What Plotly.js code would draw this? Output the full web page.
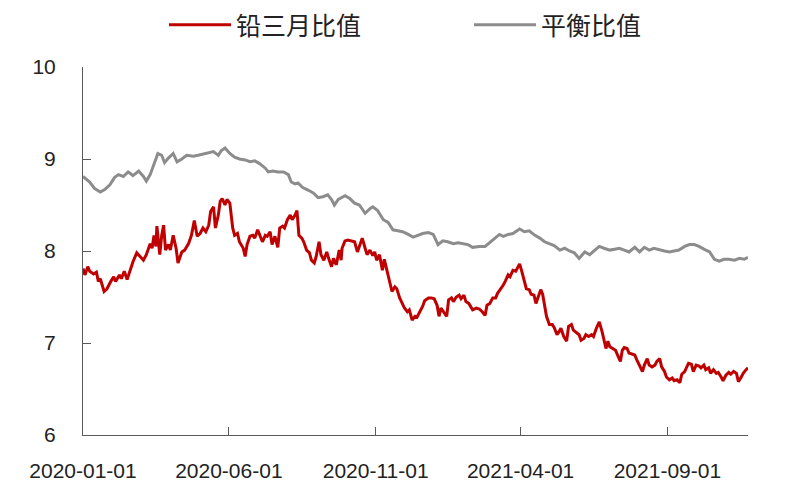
<!DOCTYPE html>
<html>
<head>
<meta charset="utf-8">
<script src="https://cdn.plot.ly/plotly-3.0.1.min.js"></script>
<style>
  html, body { margin: 0; padding: 0; background: #ffffff; }
  #chart { width: 800px; height: 500px; }
</style>
</head>
<body>
<div id="chart"></div>
<script>
// ---- Series names ----
const seriesRedName = "铅三月比值";
const seriesGrayName = "平衡比值";

// ---- 铅三月比值 (red) ----
const redDates = [
  "2020-01-01","2020-01-03","2020-01-06","2020-01-08","2020-01-12","2020-01-15","2020-01-17","2020-01-19","2020-01-23","2020-01-26",
  "2020-01-30","2020-02-02","2020-02-04","2020-02-08","2020-02-10","2020-02-13","2020-02-16","2020-02-19","2020-02-22","2020-02-26",
  "2020-02-29","2020-03-04","2020-03-07","2020-03-11","2020-03-13","2020-03-15","2020-03-17","2020-03-18","2020-03-21","2020-03-23",
  "2020-03-25","2020-03-27","2020-03-30","2020-04-01","2020-04-04","2020-04-07","2020-04-09","2020-04-13","2020-04-16","2020-04-20",
  "2020-04-23","2020-04-26","2020-04-29","2020-05-02","2020-05-05","2020-05-08","2020-05-11","2020-05-13","2020-05-16","2020-05-18",
  "2020-05-21","2020-05-23","2020-05-25","2020-05-28","2020-05-30","2020-06-02","2020-06-05","2020-06-07","2020-06-10","2020-06-12",
  "2020-06-16","2020-06-18","2020-06-20","2020-06-23","2020-06-26","2020-06-28","2020-07-01","2020-07-03","2020-07-06","2020-07-09",
  "2020-07-11","2020-07-14","2020-07-16","2020-07-19","2020-07-22","2020-07-24","2020-07-27","2020-07-29","2020-08-01","2020-08-04",
  "2020-08-06","2020-08-09","2020-08-11","2020-08-13","2020-08-16","2020-08-18","2020-08-21","2020-08-24","2020-08-26","2020-08-29",
  "2020-08-31","2020-09-03","2020-09-05","2020-09-08","2020-09-11","2020-09-13","2020-09-16","2020-09-18","2020-09-21","2020-09-24",
  "2020-09-26","2020-09-27","2020-09-30","2020-10-03","2020-10-07","2020-10-10","2020-10-13","2020-10-15","2020-10-18","2020-10-21",
  "2020-10-23","2020-10-26","2020-10-29","2020-10-31","2020-11-02","2020-11-05","2020-11-08","2020-11-10","2020-11-13","2020-11-16",
  "2020-11-18","2020-11-21","2020-11-23","2020-11-26","2020-11-29","2020-12-01","2020-12-04","2020-12-06","2020-12-09","2020-12-12",
  "2020-12-14","2020-12-17","2020-12-20","2020-12-22","2020-12-26","2020-12-29","2021-01-01","2021-01-04","2021-01-06","2021-01-08",
  "2021-01-11","2021-01-14","2021-01-16","2021-01-19","2021-01-21","2021-01-24","2021-01-27","2021-01-29","2021-02-01","2021-02-03",
  "2021-02-06","2021-02-09","2021-02-10","2021-02-14","2021-02-17","2021-02-20","2021-02-23","2021-02-25","2021-02-28","2021-03-03",
  "2021-03-06","2021-03-08","2021-03-11","2021-03-14","2021-03-16","2021-03-19","2021-03-21","2021-03-24","2021-03-27","2021-03-29",
  "2021-03-31","2021-04-02","2021-04-04","2021-04-07","2021-04-10","2021-04-12","2021-04-15","2021-04-17","2021-04-19","2021-04-22",
  "2021-04-24","2021-04-26","2021-04-28","2021-05-01","2021-05-04","2021-05-06","2021-05-09","2021-05-11","2021-05-13","2021-05-16",
  "2021-05-19","2021-05-21","2021-05-24","2021-05-26","2021-05-29","2021-06-01","2021-06-03","2021-06-06","2021-06-08","2021-06-11",
  "2021-06-14","2021-06-16","2021-06-19","2021-06-22","2021-06-25","2021-06-27","2021-06-29","2021-07-01","2021-07-03","2021-07-06",
  "2021-07-09","2021-07-11","2021-07-14","2021-07-16","2021-07-18","2021-07-21","2021-07-23","2021-07-26","2021-07-29","2021-07-31",
  "2021-08-03","2021-08-06","2021-08-08","2021-08-11","2021-08-13","2021-08-16","2021-08-19","2021-08-21","2021-08-24","2021-08-26",
  "2021-08-29","2021-08-31","2021-09-03","2021-09-06","2021-09-08","2021-09-11","2021-09-14","2021-09-16","2021-09-19","2021-09-21",
  "2021-09-23","2021-09-26","2021-09-28","2021-10-01","2021-10-04","2021-10-06","2021-10-09","2021-10-11","2021-10-14","2021-10-16",
  "2021-10-19","2021-10-22","2021-10-24","2021-10-27","2021-10-29","2021-11-01","2021-11-04","2021-11-06","2021-11-09","2021-11-12",
  "2021-11-14","2021-11-17","2021-11-19","2021-11-22","2021-11-24"
];
const redValues = [
  7.81,7.74,7.83,7.78,7.75,7.77,7.67,7.70,7.56,7.59,
  7.67,7.72,7.67,7.74,7.70,7.78,7.69,7.79,7.88,7.98,
  7.94,7.90,7.96,8.08,8.03,8.17,8.05,8.27,7.96,8.17,
  8.28,8.01,8.07,8.01,8.17,8.03,7.87,7.99,8.01,8.08,
  8.17,8.33,8.16,8.19,8.25,8.21,8.28,8.43,8.48,8.25,
  8.39,8.54,8.57,8.50,8.56,8.52,8.25,8.17,8.19,8.10,
  8.03,7.94,8.07,8.16,8.17,8.14,8.23,8.17,8.10,8.17,
  8.16,8.21,8.07,8.16,8.04,8.25,8.27,8.25,8.34,8.39,
  8.34,8.39,8.44,8.17,8.14,8.10,8.01,7.98,7.90,7.87,
  7.94,8.10,7.96,7.90,7.99,7.92,7.83,7.92,7.85,8.01,
  7.90,8.03,8.11,8.12,8.11,8.10,7.99,8.05,8.14,8.03,
  7.96,8.01,7.95,7.99,7.90,7.96,7.79,7.91,7.78,7.67,
  7.56,7.61,7.59,7.49,7.43,7.38,7.34,7.36,7.25,7.29,
  7.28,7.34,7.40,7.46,7.49,7.49,7.48,7.41,7.29,7.38,
  7.34,7.29,7.47,7.49,7.45,7.50,7.52,7.48,7.52,7.45,
  7.43,7.38,7.36,7.38,7.37,7.34,7.30,7.41,7.43,7.49,
  7.49,7.54,7.58,7.63,7.67,7.74,7.72,7.79,7.78,7.83,
  7.86,7.79,7.70,7.59,7.58,7.53,7.52,7.43,7.49,7.58,
  7.53,7.41,7.29,7.20,7.20,7.17,7.09,7.12,7.16,7.07,
  7.02,7.18,7.20,7.14,7.11,7.09,7.03,7.05,7.09,7.07,
  7.09,7.07,7.16,7.23,7.12,7.03,6.94,7.02,6.96,6.94,
  6.92,6.87,6.80,6.92,6.95,6.94,6.89,6.88,6.87,6.82,
  6.76,6.69,6.76,6.83,6.76,6.74,6.76,6.80,6.83,6.74,
  6.69,6.63,6.60,6.62,6.59,6.60,6.57,6.66,6.69,6.73,
  6.78,6.77,6.69,6.76,6.75,6.73,6.76,6.71,6.73,6.67,
  6.71,6.67,6.68,6.63,6.59,6.65,6.68,6.66,6.69,6.67,
  6.58,6.63,6.67,6.71,6.73
];

// ---- 平衡比值 (gray) ----
const grayDates = [
  "2020-01-01","2020-01-08","2020-01-13","2020-01-19","2020-01-24","2020-01-29","2020-02-03","2020-02-07","2020-02-12","2020-02-17",
  "2020-02-22","2020-02-28","2020-03-04","2020-03-07","2020-03-11","2020-03-14","2020-03-19","2020-03-23","2020-03-26","2020-03-30",
  "2020-04-04","2020-04-08","2020-04-13","2020-04-18","2020-04-25","2020-04-30","2020-05-05","2020-05-11","2020-05-16","2020-05-21",
  "2020-05-24","2020-05-28","2020-06-02","2020-06-07","2020-06-12","2020-06-18","2020-06-23","2020-06-28","2020-07-03","2020-07-09",
  "2020-07-12","2020-07-17","2020-07-22","2020-07-28","2020-08-02","2020-08-05","2020-08-09","2020-08-12","2020-08-17","2020-08-23",
  "2020-08-28","2020-09-02","2020-09-07","2020-09-12","2020-09-16","2020-09-19","2020-09-23","2020-09-28","2020-09-30","2020-10-05",
  "2020-10-10","2020-10-15","2020-10-21","2020-10-26","2020-10-29","2020-11-03","2020-11-09","2020-11-14","2020-11-19","2020-11-24",
  "2020-11-29","2020-12-05","2020-12-10","2020-12-15","2020-12-20","2020-12-26","2020-12-31","2021-01-05","2021-01-10","2021-01-15",
  "2021-01-21","2021-01-26","2021-01-31","2021-02-05","2021-02-10","2021-02-17","2021-02-23","2021-02-28","2021-03-05","2021-03-10",
  "2021-03-14","2021-03-19","2021-03-24","2021-03-31","2021-04-05","2021-04-10","2021-04-16","2021-04-21","2021-04-26","2021-05-01",
  "2021-05-06","2021-05-12","2021-05-17","2021-05-22","2021-05-27","2021-06-01","2021-06-07","2021-06-12","2021-06-17","2021-06-22",
  "2021-06-27","2021-07-03","2021-07-08","2021-07-13","2021-07-18","2021-07-23","2021-07-29","2021-08-03","2021-08-08","2021-08-13",
  "2021-08-18","2021-08-24","2021-08-29","2021-09-03","2021-09-08","2021-09-13","2021-09-19","2021-09-24","2021-09-29","2021-10-04",
  "2021-10-09","2021-10-15","2021-10-20","2021-10-25","2021-10-30","2021-11-04","2021-11-10","2021-11-15","2021-11-20","2021-11-24"
];
const grayValues = [
  8.81,8.75,8.68,8.64,8.67,8.72,8.80,8.83,8.81,8.86,
  8.82,8.87,8.81,8.76,8.83,8.92,9.06,9.04,8.96,9.01,
  9.06,8.97,9.00,9.04,9.03,9.04,9.05,9.07,9.08,9.04,
  9.09,9.12,9.06,9.02,9.00,8.99,8.97,8.98,8.95,8.90,
  8.86,8.87,8.86,8.86,8.83,8.75,8.73,8.74,8.69,8.66,
  8.63,8.58,8.59,8.61,8.56,8.50,8.56,8.59,8.60,8.57,
  8.52,8.50,8.41,8.46,8.48,8.44,8.34,8.31,8.23,8.22,
  8.21,8.18,8.15,8.17,8.19,8.20,8.18,8.07,8.11,8.10,
  8.08,8.09,8.08,8.07,8.04,8.05,8.05,8.09,8.13,8.18,
  8.16,8.18,8.19,8.24,8.21,8.22,8.17,8.14,8.10,8.08,
  8.06,8.01,8.03,8.00,7.98,7.92,7.99,7.96,8.01,8.05,
  8.03,8.01,8.02,8.03,8.01,7.99,8.04,7.99,8.04,8.01,
  8.03,8.01,8.00,7.99,8.00,8.01,8.05,8.07,8.07,8.05,
  8.02,7.99,7.91,7.89,7.91,7.91,7.90,7.92,7.91,7.93
];

// ---- Axis settings (data-related) ----
const xStart = "2020-01-01";
const xEnd = "2021-11-24";
const yTickVals = [6, 7, 8, 9, 10];

const fontStack = "'Liberation Sans', Arial, sans-serif";
const cjkFont = "'Noto Sans CJK SC', 'Noto Sans', sans-serif";

const traces = [
  {
    type: "scatter", mode: "lines", name: seriesRedName,
    x: redDates, y: redValues,
    line: { color: "#C00000", width: 3 },
    legend: "legend"
  },
  {
    type: "scatter", mode: "lines", name: seriesGrayName,
    x: grayDates, y: grayValues,
    line: { color: "#8C8C8C", width: 3 },
    legend: "legend2"
  }
];

const legendBase = {
  orientation: "h",
  xref: "container", xanchor: "left",
  yref: "container", y: 1 - 25 / 500, yanchor: "middle",
  font: { family: cjkFont, size: 25, color: "#222222" },
  itemwidth: 62,
  bgcolor: "rgba(0,0,0,0)"
};

const layout = {
  width: 800, height: 500,
  paper_bgcolor: "#ffffff", plot_bgcolor: "#ffffff",
  margin: { l: 83, r: 52, t: 67, b: 65, pad: 0 },
  showlegend: true,
  legend: Object.assign({}, legendBase, { x: 164 / 800 }),
  legend2: Object.assign({}, legendBase, { x: 469 / 800 }),
  xaxis: {
    type: "date",
    range: [xStart, xEnd],
    tick0: xStart, dtick: "M5",
    tickformat: "%Y-%m-%d",
    showgrid: false, zeroline: false,
    showline: true, linecolor: "#595959", linewidth: 1,
    ticks: "inside", ticklen: 8, tickcolor: "#595959",
    ticklabelstandoff: 17,
    tickfont: { family: fontStack, size: 21, color: "#222222" }
  },
  yaxis: {
    range: [6, 10],
    tickvals: yTickVals,
    showgrid: false, zeroline: false,
    showline: true, linecolor: "#595959", linewidth: 1,
    ticks: "inside", ticklen: 8, tickcolor: "#595959",
    ticklabelstandoff: 22,
    tickfont: { family: fontStack, size: 21, color: "#222222" }
  }
};

Plotly.newPlot("chart", traces, layout, { displayModeBar: false, staticPlot: true });
</script>
</body>
</html>
